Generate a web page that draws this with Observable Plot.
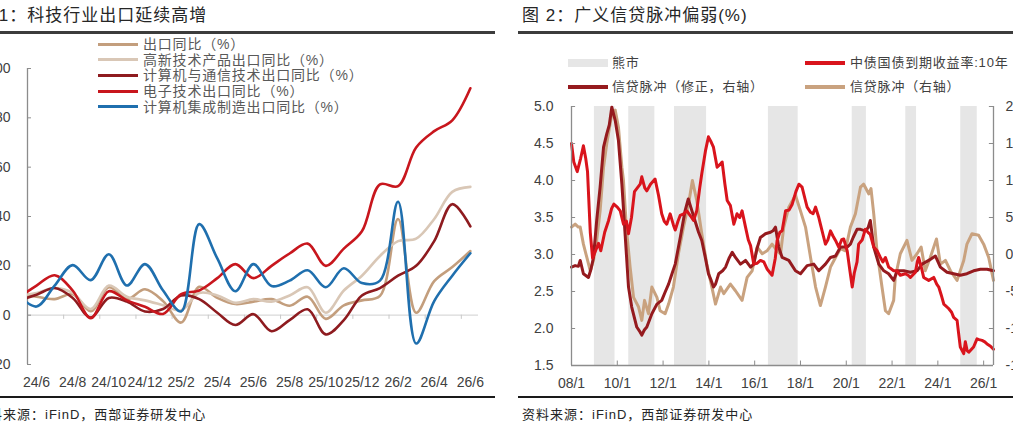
<!DOCTYPE html>
<html><head><meta charset="utf-8">
<script src="https://cdn.jsdelivr.net/npm/d3@7"></script>
<script src="https://cdn.jsdelivr.net/npm/@observablehq/plot@0.6"></script>
<style>
html,body{margin:0;padding:0;background:#fff;}
#root{position:relative;width:1013px;height:430px;overflow:hidden;font-family:"Liberation Sans",Arial,"Noto Sans CJK SC",sans-serif;}
.abs{position:absolute;white-space:nowrap;}
.title{font-size:17px;color:#262626;letter-spacing:1px;line-height:20px;}
.rule{position:absolute;}
.src{font-size:13px;color:#262626;letter-spacing:1px;line-height:16px;}
.leg{font-size:14px;color:#595959;line-height:16px;letter-spacing:0.8px;}
.leg2{font-size:13px;color:#404040;line-height:16px;letter-spacing:0.8px;}
</style></head><body><div id="root"></div>
<script>
// ---------- Left chart data (图1) ----------
const monthIdx = [-1,0,1,2,3,4,5,6,7,8,9,10,11,12,13,14,15,16,17,18,19,20,21,22,23,24];
const xLabels = ["24/6","24/8","24/10","24/12","25/2","25/4","25/6","25/8","25/10","25/12","26/2","26/4","26/6"];
const xLabelPos = [0,2,4,6,8,10,12,14,16,18,20,22,24];
const xMinorTicks = [1.5,3.5,5.5,7.5,9.5,11.5,13.5,15.5,17.5,19.5,21.5,23.5];
const yTicksL = [-20,0,20,40,60,80,100];
const exportYoY   = [9,7.5,6.5,8.5,1.6,11.3,6.5,10.5,5.7,-3,11.5,7,4.5,5.5,6.5,3.8,7.5,-1.5,4,6,7.8,39,1,13.8,19.5,26];
const hiTechYoY   = [8,9,11,9,2.5,12,7.5,6,4,2,9,8,5,6.5,5.5,8,11.3,1,10,16,24,30,31,39,50,52];
const compCommYoY = [6,8.3,11,7,-1,7,5.5,1.5,2.5,8,6.5,1,-4,0.4,-6.5,-2,2.4,-7.8,-2,8,11,16,20,30,45,36];
const electroYoY  = [7,12,16.2,10,-1.2,9.7,6,3.4,0.5,8.5,10,15,20.7,15,20,25,29,20,27,34,53,52.3,68,74.6,79,92];
const cimsYoY     = [8,3.5,12,20.3,14.2,24.7,12,20.7,10,1.5,36.9,23,9.7,20.7,11.8,14,18.2,11.3,19,13,14,46,-11.5,5.7,16,25.1];
const leftNames  = ["出口同比（%）","高新技术产品出口同比（%）","计算机与通信技术出口同比（%）","电子技术出口同比（%）","计算机集成制造出口同比（%）"];
const leftColors = ["#C39E7D","#D9C7B6","#8E1B1F","#C8161D","#1F6FAE"];

// ---------- Right chart data (图2) ----------
const bondT = [2008.00,2008.10,2008.25,2008.40,2008.52,2008.62,2008.70,2008.82,2008.92,2009.05,2009.18,2009.28,2009.45,2009.62,2009.75,2009.85,2010.00,2010.13,2010.27,2010.40,2010.49,2010.62,2010.75,2010.85,2011.00,2011.07,2011.20,2011.29,2011.45,2011.65,2011.80,2011.94,2012.05,2012.16,2012.31,2012.45,2012.53,2012.65,2012.75,2012.90,2013.04,2013.20,2013.33,2013.47,2013.60,2013.69,2013.85,2013.98,2014.10,2014.20,2014.36,2014.50,2014.58,2014.70,2014.80,2014.94,2015.09,2015.23,2015.35,2015.45,2015.60,2015.72,2015.82,2015.96,2016.10,2016.25,2016.40,2016.55,2016.76,2016.90,2016.98,2017.10,2017.20,2017.35,2017.50,2017.64,2017.80,2017.93,2018.07,2018.20,2018.29,2018.44,2018.55,2018.66,2018.80,2018.87,2019.00,2019.09,2019.20,2019.31,2019.42,2019.53,2019.67,2019.80,2019.89,2020.04,2020.15,2020.26,2020.35,2020.47,2020.54,2020.70,2020.83,2020.95,2021.05,2021.20,2021.35,2021.49,2021.60,2021.71,2021.85,2022.07,2022.20,2022.36,2022.58,2022.70,2022.80,2023.02,2023.10,2023.16,2023.30,2023.38,2023.60,2023.82,2023.95,2024.04,2024.15,2024.26,2024.47,2024.60,2024.69,2024.84,2024.90,2024.98,2025.13,2025.20,2025.28,2025.35,2025.56,2025.71,2025.80,2025.93,2026.05,2026.15,2026.30,2026.43];
const bondY = [4.50,4.25,4.12,4.30,4.47,4.30,4.12,3.30,2.95,3.05,3.15,3.05,3.30,3.46,3.62,3.68,3.64,3.59,3.41,3.45,3.28,3.50,3.85,3.89,3.95,4.05,3.90,3.86,3.95,4.02,3.80,3.55,3.45,3.41,3.55,3.40,3.33,3.45,3.53,3.55,3.59,3.52,3.46,3.59,3.90,4.09,4.40,4.59,4.52,4.45,4.18,4.22,4.25,3.95,3.73,3.66,3.41,3.55,3.50,3.59,3.37,3.20,3.12,2.87,2.88,2.92,2.90,2.80,2.72,2.95,3.19,3.30,3.32,3.59,3.60,3.68,3.85,3.95,3.91,3.75,3.64,3.57,3.55,3.64,3.50,3.41,3.25,3.14,3.20,3.32,3.25,3.19,3.10,3.20,3.21,3.05,2.80,2.56,2.75,2.90,3.14,3.20,3.34,3.30,3.27,3.10,3.05,2.96,2.90,2.96,2.83,2.78,2.78,2.72,2.74,2.72,2.69,2.76,2.90,2.96,2.80,2.69,2.65,2.69,2.60,2.56,2.45,2.33,2.27,2.22,2.15,2.11,1.95,1.75,1.66,1.82,1.70,1.68,1.75,1.86,1.85,1.84,1.82,1.79,1.76,1.72];
const pulseAdjT = [2008.00,2008.16,2008.30,2008.38,2008.52,2008.74,2008.85,2008.96,2009.10,2009.25,2009.40,2009.54,2009.65,2009.76,2009.91,2010.05,2010.20,2010.34,2010.49,2010.63,2010.85,2011.00,2011.07,2011.18,2011.29,2011.51,2011.73,2011.94,2012.10,2012.24,2012.40,2012.53,2012.75,2012.96,2013.10,2013.25,2013.40,2013.55,2013.69,2013.85,2013.98,2014.10,2014.20,2014.29,2014.43,2014.60,2014.73,2014.88,2015.02,2015.16,2015.38,2015.60,2015.82,2015.96,2016.10,2016.25,2016.47,2016.69,2016.80,2016.91,2017.05,2017.20,2017.49,2017.78,2018.00,2018.29,2018.58,2018.80,2019.09,2019.31,2019.53,2019.75,2020.04,2020.18,2020.30,2020.47,2020.62,2020.83,2020.95,2021.05,2021.20,2021.42,2021.64,2021.85,2022.07,2022.22,2022.51,2022.80,2023.09,2023.31,2023.60,2023.89,2024.11,2024.40,2024.69,2024.98,2025.27,2025.56,2025.86,2026.15,2026.43];
const pulseAdj = [-1.7,-1.5,-1.6,-0.8,-2.6,-3.1,-2.0,-0.4,4.6,9.1,14.5,16.3,17.5,19.9,18.1,15.4,9.5,2.8,-4.4,-7.1,-9.8,-10.5,-10.9,-10.2,-9.8,-8.0,-6.7,-6.2,-5.0,-4.0,-2.5,-1.3,2.3,5.9,7.5,6.0,4.5,3.0,1.9,-0.5,-2.6,-3.5,-4.4,-4.0,-2.6,-2.2,-1.7,-0.5,0.3,-0.4,-1.3,-0.8,-1.7,-1.3,0.8,2.3,2.8,3.0,3.2,3.7,1.0,-0.4,-0.8,-2.2,-2.6,-1.5,-1.3,-2.2,-1.3,-0.4,-0.2,1.0,1.0,1.4,2.3,3.4,3.4,3.2,3.6,4.6,1.0,-1.3,-2.2,-2.6,-3.5,-2.2,-2.2,-2.4,-2.2,-1.3,-0.8,-0.2,-1.7,-2.4,-2.6,-2.8,-2.6,-2.2,-2.0,-2.0,-2.2];
const pulseT = [2008.00,2008.08,2008.16,2008.30,2008.38,2008.52,2008.67,2008.82,2008.96,2009.10,2009.25,2009.40,2009.54,2009.76,2009.91,2010.05,2010.20,2010.27,2010.35,2010.42,2010.56,2010.71,2010.93,2011.07,2011.19,2011.36,2011.51,2011.73,2011.87,2012.09,2012.24,2012.45,2012.67,2012.89,2013.11,2013.28,2013.47,2013.69,2013.91,2014.13,2014.29,2014.51,2014.65,2014.94,2015.16,2015.45,2015.67,2015.89,2016.11,2016.33,2016.54,2016.76,2016.98,2017.13,2017.27,2017.49,2017.78,2018.00,2018.22,2018.44,2018.66,2018.87,2019.09,2019.31,2019.53,2019.75,2019.96,2020.18,2020.40,2020.62,2020.76,2020.98,2021.08,2021.20,2021.34,2021.56,2021.71,2021.85,2022.07,2022.14,2022.36,2022.65,2022.87,2023.09,2023.27,2023.45,2023.67,2023.94,2024.11,2024.33,2024.55,2024.84,2025.13,2025.27,2025.49,2025.78,2026.00,2026.22,2026.43];
const pulse = [3.7,3.9,4.1,3.7,3.7,1.4,-0.4,-2.2,-0.8,1.9,5.9,11.8,15.0,19.0,19.5,17.2,11.8,10.0,6.0,2.8,-1.7,-5.8,-7.1,-8.9,-6.2,-8.0,-4.4,-5.8,-7.6,-8.0,-6.7,-4.4,0.1,3.7,6.8,10.0,7.3,2.8,-1.3,-4.4,-6.7,-4.4,-5.3,-4.0,-4.9,-6.2,-3.1,-2.2,1.0,0.1,0.5,1.4,0.5,0.1,3.7,6.4,8.0,5.9,3.7,-0.4,-4.4,-6.9,-4.4,-1.7,-0.4,0.8,0.5,3.7,5.5,9.1,9.5,8.2,8.9,5.5,0.5,-4.4,-7.6,-8.0,-6.2,-3.1,0.1,1.9,-0.8,0.1,1.0,-2.2,-0.4,2.1,-1.3,-0.8,-2.2,-3.5,-0.8,1.4,2.8,2.6,1.4,-0.4,-3.5];
const bearStart = [2009.0,2010.5,2012.5,2016.6,2020.26,2022.6,2025.0];
const bearEnd   = [2009.9,2011.64,2013.9,2017.9,2020.88,2023.07,2025.72];
const rYears  = [2008,2010,2012,2014,2016,2018,2020,2022,2024,2026];
const rLabels = ["08/1","10/1","12/1","14/1","16/1","18/1","20/1","22/1","24/1","26/1"];
const rTicks  = [1.5,2.0,2.5,3.0,3.5,4.0,4.5,5.0];

// ---------- helpers ----------
const root = document.getElementById("root");
function add(cls, left, top, text, extra) {
  const d = document.createElement("div");
  d.className = "abs " + (cls||"");
  d.style.left = left + "px"; d.style.top = top + "px";
  if (text != null) d.textContent = text;
  if (extra) Object.assign(d.style, extra);
  root.appendChild(d);
  return d;
}
const FONT = "'Liberation Sans', Arial, 'Noto Sans CJK SC', sans-serif";

// ---------- Left panel ----------
add("title", -25, 6, "图 1：科技行业出口延续高增");
add("rule", 0, 31, null, {width:"495px", height:"2.5px", background:"#3c3c3c"});
add("rule", 0, 396, null, {width:"495px", height:"2px", background:"#1a1a1a"});
add("src", -25, 407, "资料来源：iFinD，西部证券研发中心");

const leftSeries = [exportYoY, hiTechYoY, compCommYoY, electroYoY, cimsYoY];
const leftLines = leftSeries.map((vals, k) =>
  Plot.line(monthIdx.map((m, i) => ({m, v: vals[i]})), {
    x: "m", y: "v", stroke: leftColors[k], strokeWidth: 2.6, curve: "catmull-rom", clip: true
  }));

const leftPlot = Plot.plot({
  width: 530, height: 400,
  marginLeft: 57, marginRight: 22, marginTop: 68, marginBottom: 36,
  x: {type: "linear", domain: [-0.5, 24.45], axis: null, label: null},
  y: {domain: [-20, 100], axis: null, label: null},
  style: {fontFamily: FONT, fontSize: "14px", color: "#404040", background: "transparent", maxWidth: "none"},
  marks: [
    Plot.ruleY([0], {stroke: "#D9D9D9", strokeWidth: 1.3}),
    Plot.ruleX(xMinorTicks, {y1: 0, y2: -1.7, stroke: "#C8C8C8"}),
    Plot.ruleX([-0.5], {y1: -20, y2: 100, stroke: "#8C8C8C", strokeWidth: 1.3}),
    Plot.ruleY(yTicksL, {x1: -0.5, x2: -0.28, stroke: "#8C8C8C"}),
    Plot.axisY({ticks: yTicksL, tickSize: 0, tickPadding: 17, fontSize: 14, label: null}),
    Plot.axisX({ticks: xLabelPos, tickFormat: d => xLabels[Math.round(d / 2)], tickSize: 0, tickPadding: 13, fontSize: 14, label: null}),
    ...leftLines
  ]
});
const lw = add("", -30, 0, null, {width: "530px", height: "400px"});
lw.appendChild(leftPlot);

const legY = [44, 59.7, 75.4, 91.1, 106.8];
leftNames.forEach((n, k) => {
  add("", 98, legY[k] - 1.5, null, {width: "40px", height: "3px", background: leftColors[k]});
  add("leg", 143, legY[k] - 8, n);
});

// ---------- Right panel ----------
add("title", 522, 6, "图 2：广义信贷脉冲偏弱(%)");
add("rule", 518, 31, null, {width: "495px", height: "2.5px", background: "#3c3c3c"});
add("rule", 518, 396, null, {width: "495px", height: "2px", background: "#1a1a1a"});
add("src", 522, 407, "资料来源：iFinD，西部证券研发中心");

const bears = bearStart.map((s, i) => ({s, e: bearEnd[i]}));
const bondData = bondT.map((t, i) => ({t, v: bondY[i]}));
const adjData = pulseAdjT.map((t, i) => ({t, v: pulseAdj[i]}));
const pulseData = pulseT.map((t, i) => ({t, v: pulse[i]}));
const toLeft = v => 3 + v / 10;   // right axis (-15..20) onto left axis (1.5..5.0)

const colBond = "#D9141C", colAdj = "#951A1E", colPulse = "#C9A27F";

const rightPlot = Plot.plot({
  width: 524, height: 400,
  marginLeft: 53, marginRight: 49, marginTop: 106, marginBottom: 35,
  x: {type: "linear", domain: [2008.0, 2026.43], axis: null, label: null},
  y: {domain: [1.5, 5.0], axis: null, label: null},
  style: {fontFamily: FONT, fontSize: "14px", color: "#404040", background: "transparent", maxWidth: "none"},
  marks: [
    Plot.rect(bears, {x1: "s", x2: "e", y1: 1.5, y2: 5.0, fill: "#E6E6E6"}),
    Plot.line(pulseData, {x: "t", y: d => toLeft(d.v), stroke: colPulse, strokeWidth: 3}),
    Plot.line(adjData, {x: "t", y: d => toLeft(d.v), stroke: colAdj, strokeWidth: 3}),
    Plot.line(bondData, {x: "t", y: "v", stroke: colBond, strokeWidth: 3}),
    Plot.ruleX([2008.0, 2026.43], {y1: 1.5, y2: 5.0, stroke: "#8C8C8C", strokeWidth: 1.3}),
    Plot.ruleY([1.5], {stroke: "#8C8C8C", strokeWidth: 1.3}),
    Plot.ruleY(rTicks, {x1: 2008.0, x2: 2008.18, stroke: "#8C8C8C"}),
    Plot.ruleY(rTicks, {x1: 2026.25, x2: 2026.43, stroke: "#8C8C8C"}),
    Plot.ruleX(rYears, {y1: 1.5, y2: 1.56, stroke: "#8C8C8C"}),
    Plot.axisY({ticks: rTicks, tickFormat: d3.format(".1f"), tickSize: 0, tickPadding: 18, fontSize: 14, label: null}),
    Plot.axisY({anchor: "right", ticks: rTicks, tickFormat: d => String(Math.round((d - 3) * 10)), tickSize: 0, tickPadding: 12, fontSize: 14, label: null}),
    Plot.axisX({ticks: rYears, tickFormat: d => rLabels[rYears.indexOf(d)], tickSize: 0, tickPadding: 13, fontSize: 14, label: null})
  ]
});
const rw = add("", 518, 0, null, {width: "524px", height: "400px"});
rw.appendChild(rightPlot);

// right legend
add("", 568, 59, null, {width: "40px", height: "8px", background: "#E6E6E6"});
add("leg2", 612, 55, "熊市");
add("", 805, 61, null, {width: "40px", height: "4px", background: colBond});
add("leg2", 850, 55, "中债国债到期收益率:10年");
add("", 568, 85, null, {width: "40px", height: "4px", background: colAdj});
add("leg2", 612, 79, "信贷脉冲（修正，右轴）");
add("", 805, 85, null, {width: "40px", height: "4px", background: colPulse});
add("leg2", 850, 79, "信贷脉冲（右轴）");
</script></body></html>
